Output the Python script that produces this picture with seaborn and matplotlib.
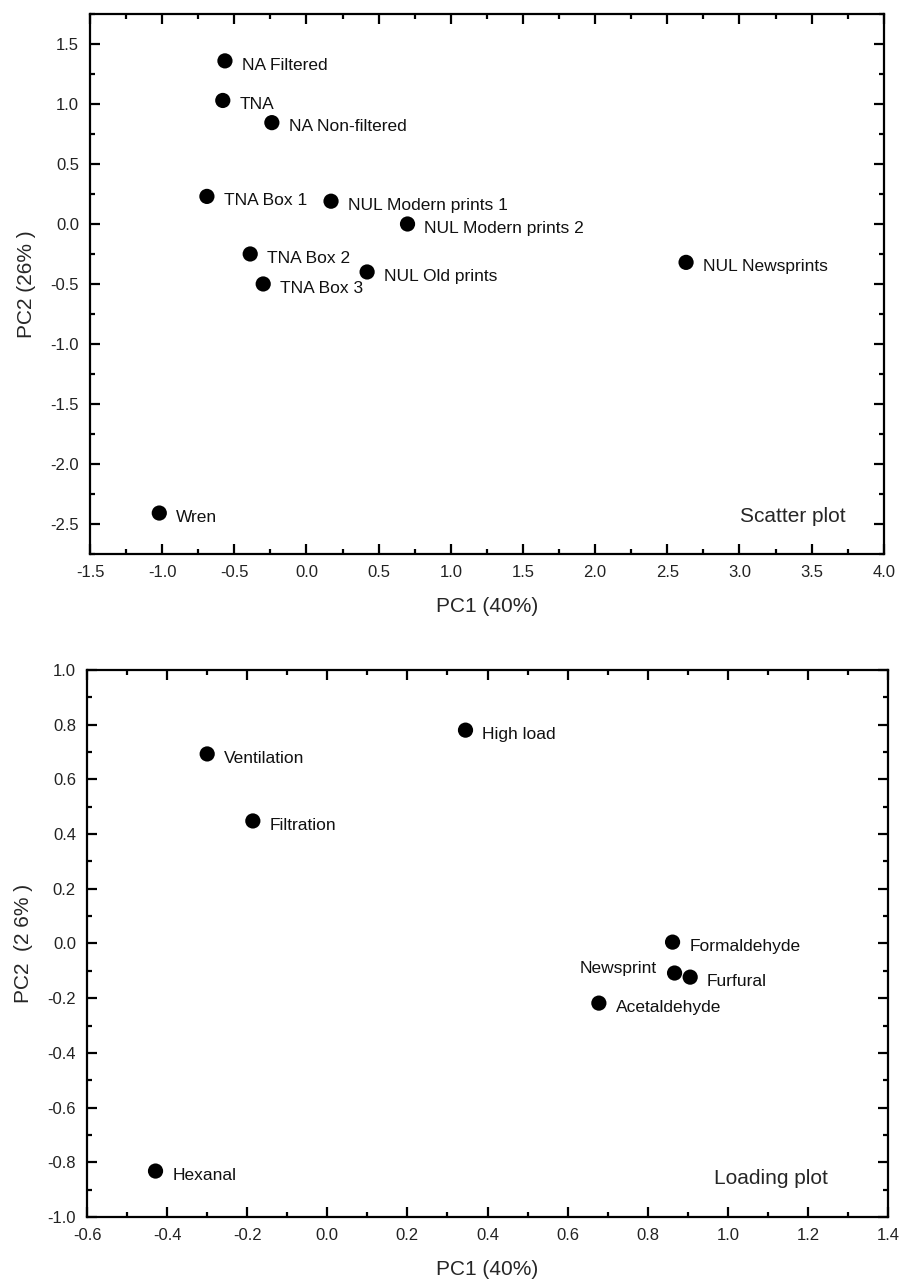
import matplotlib
matplotlib.use("Agg")
import matplotlib.pyplot as plt
import pandas as pd
import seaborn as sns
from matplotlib.ticker import MultipleLocator, FormatStrFormatter

# --- Data: scatter plot (scores) ---
score_names = ["NA Filtered", "TNA", "NA Non-filtered", "TNA Box 1",
               "NUL Modern prints 1", "NUL Modern prints 2", "TNA Box 2",
               "TNA Box 3", "NUL Old prints", "NUL Newsprints", "Wren"]
score_pc1 = [-0.565, -0.58, -0.24, -0.69, 0.17, 0.70, -0.39, -0.30, 0.42, 2.63, -1.02]
score_pc2 = [1.36, 1.03, 0.845, 0.23, 0.19, 0.00, -0.25, -0.50, -0.40, -0.32, -2.41]

# --- Data: loading plot ---
load_names = ["Ventilation", "Filtration", "High load", "Formaldehyde",
              "Newsprint", "Furfural", "Acetaldehyde", "Hexanal"]
load_pc1 = [-0.30, -0.186, 0.345, 0.862, 0.867, 0.906, 0.678, -0.429]
load_pc2 = [0.693, 0.448, 0.78, 0.005, -0.108, -0.123, -0.218, -0.832]

df_scores = pd.DataFrame({"name": score_names, "PC1": score_pc1, "PC2": score_pc2})
df_load = pd.DataFrame({"name": load_names, "PC1": load_pc1, "PC2": load_pc2})

sns.set_style("ticks")
plt.rcParams["font.family"] = ["Liberation Sans", "DejaVu Sans"]

fig = plt.figure(figsize=(9.01, 12.82), dpi=100)
ax1 = fig.add_axes([0.0999, 0.568, 0.881, 0.421])
ax2 = fig.add_axes([0.0966, 0.0507, 0.889, 0.4267])


def style_axis(ax, xmaj, ymaj):
    for s in ax.spines.values():
        s.set_linewidth(1.6)
        s.set_color("black")
        s.set_visible(True)
    ax.xaxis.set_major_locator(MultipleLocator(xmaj))
    ax.xaxis.set_minor_locator(MultipleLocator(xmaj / 2))
    ax.yaxis.set_major_locator(MultipleLocator(ymaj))
    ax.yaxis.set_minor_locator(MultipleLocator(ymaj / 2))
    ax.xaxis.set_major_formatter(FormatStrFormatter("%.1f"))
    ax.yaxis.set_major_formatter(FormatStrFormatter("%.1f"))
    ax.tick_params(which="both", direction="in", top=True, right=True,
                   width=1.6, color="black")
    ax.tick_params(which="major", length=7, labelsize=12, pad=8, labelcolor="#222222")
    ax.tick_params(which="minor", length=3.5)


def label_points(ax, df, left=()):
    for _, r in df.iterrows():
        if r["name"] in left:
            ax.annotate(r["name"], (r["PC1"], r["PC2"]), xytext=(-13, 3),
                        textcoords="offset points", ha="right", va="center",
                        fontsize=12.5, color="#111111")
        else:
            ax.annotate(r["name"], (r["PC1"], r["PC2"]), xytext=(12, -3),
                        textcoords="offset points", ha="left", va="center",
                        fontsize=12.5, color="#111111")


# Scatter plot
sns.scatterplot(data=df_scores, x="PC1", y="PC2", ax=ax1, color="black",
                s=120, edgecolor="none")
ax1.set_xlim(-1.5, 4.0)
ax1.set_ylim(-2.75, 1.75)
style_axis(ax1, 0.5, 0.5)
label_points(ax1, df_scores)
ax1.set_xlabel("PC1 (40%)", fontsize=15, labelpad=12)
ax1.set_ylabel("PC2 (26% )", fontsize=15, labelpad=10)
ax1.text(0.952, 0.07, "Scatter plot", transform=ax1.transAxes, ha="right",
         va="center", fontsize=15)

# Loading plot
sns.scatterplot(data=df_load, x="PC1", y="PC2", ax=ax2, color="black",
                s=120, edgecolor="none")
ax2.set_xlim(-0.6, 1.4)
ax2.set_ylim(-1.0, 1.0)
style_axis(ax2, 0.2, 0.2)
label_points(ax2, df_load, left=("Newsprint",))
ax2.set_xlabel("PC1 (40%)", fontsize=15, labelpad=12)
ax2.set_ylabel("PC2  (2 6% )", fontsize=15, labelpad=10)
ax2.text(0.925, 0.07, "Loading plot", transform=ax2.transAxes, ha="right",
         va="center", fontsize=15)

fig.savefig("out.png", dpi=100)
